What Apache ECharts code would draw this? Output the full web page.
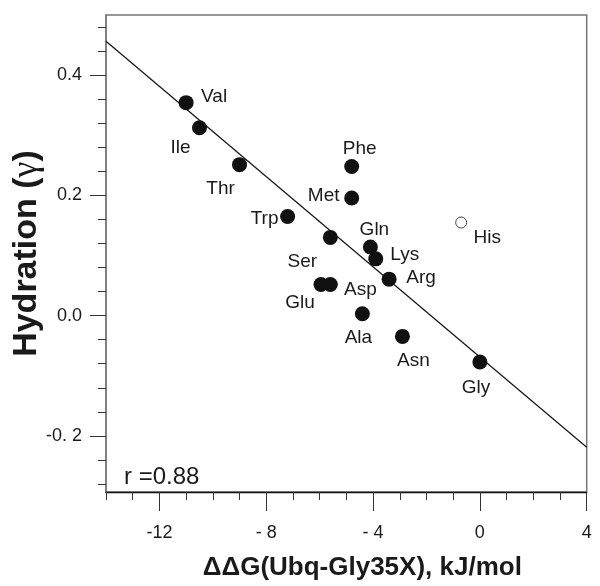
<!DOCTYPE html>
<html>
<head>
<meta charset="utf-8">
<script src="https://cdn.jsdelivr.net/npm/echarts@6/dist/echarts.min.js"></script>
<style>
	html,body{margin:0;padding:0;background:#fff;}
	#container{width:600px;height:586px;}
</style>
</head>
<body>
<div id="container"></div>
<script>
// residues, ddG (kJ/mol) and hydration values
var residues = ['Val','Ile','Thr','Phe','Met','Trp','Ser','Gln','Lys','Arg','Glu','Asp','Ala','Asn','Gly'];
var ddG = [-11.0,-10.5,-9.0,-4.8,-4.8,-7.2,-5.6,-4.1,-3.9,-3.4,-5.95,-5.6,-4.4,-2.9,0.0];
var hydration = [0.353,0.311,0.249,0.246,0.193,0.162,0.127,0.111,0.091,0.057,0.048,0.048,-0.001,-0.039,-0.082];
var openName = ['His'];
var openDdG = [-0.7];
var openHydration = [0.152];
// regression line ends
var fitX = [-14, 4];
var fitY = [0.456, -0.225];
var xTicks = [-12,-8,-4,0,4];
var xTickLabels = ['-12','- 8','- 4','0','4'];
var yTicks = [-0.2,0,0.2,0.4];
var yTickLabels = ['-0. 2','0.0','0.2','0.4'];
var rText = 'r =0.88';

// label offsets (centre of text relative to dot)
var labelOffsets = [[28,-6],[-19,20],[-19,24],[8,-18],[-28,-2],[-23,2],[-28,24],[4,-17],[29,-4],[32,-1],[-21,18],[30,5],[-4,24],[11,24],[-4,26]];
var openOffsets = [[26,15]];

var FONT = 'Liberation Sans, Arial, Helvetica, sans-serif';
var INK = '#1a1a1a';

function pickLabel(v, ticks, labels){
	for(var i=0;i<ticks.length;i++){
		if(Math.abs(v-ticks[i])<1e-6) return labels[i];
	}
	return '';
}

var filled = [];
for(var i=0;i<residues.length;i++){
	filled.push({name:residues[i], value:[ddG[i],hydration[i]], label:{offset:labelOffsets[i]}});
}
var hollow = [];
for(var j=0;j<openName.length;j++){
	hollow.push({name:openName[j], value:[openDdG[j],openHydration[j]], label:{offset:openOffsets[j]}});
}
var fitLine = [];
for(var k=0;k<fitX.length;k++){
	fitLine.push([fitX[k],fitY[k]]);
}

var pointLabel = {
	show:true, position:'inside', formatter:'{b}',
	color:INK, fontSize:19, fontFamily:FONT, align:'center', verticalAlign:'middle'
};

var myChart = echarts.init(document.getElementById('container'));
var option = {
	animation:false,
	title:{
		text:rText, left:124, top:465, padding:0,
		textStyle:{fontSize:24, fontWeight:'normal', color:INK, fontFamily:FONT}
	},
	grid:[
		// main plot frame
		{left:106, top:15, width:480.7, height:481, show:true, borderColor:'#777', borderWidth:1.5, backgroundColor:'transparent'},
		// y minor ticks -0.28..0.48
		{left:106, top:27, width:480.7, height:457},
		// y major ticks -0.2..0.4
		{left:106, top:75.1, width:480.7, height:360.8},
		// x major ticks -12..4
		{left:159.4, top:15, width:427.3, height:481}
	],
	xAxis:[{
		gridIndex:0, type:'value', min:-14, max:4, interval:1,
		axisLine:{show:true, onZero:false, lineStyle:{color:'#111', width:1.3}},
		axisTick:{show:true, length:8, lineStyle:{color:'#333', width:1}},
		axisLabel:{show:false}, splitLine:{show:false},
		name:'ΔΔG(Ubq-Gly35X), kJ/mol', nameLocation:'middle', nameGap:63,
		nameTextStyle:{fontSize:26, fontWeight:'bold', color:INK, fontFamily:FONT, padding:[0,0,0,32]}
	},{
		gridIndex:1, type:'value', min:-14, max:4, show:false
	},{
		gridIndex:2, type:'value', min:-14, max:4, show:false
	},{
		gridIndex:3, type:'value', min:-12, max:4, interval:4,
		axisLine:{show:false, onZero:false},
		axisTick:{show:true, length:15, lineStyle:{color:'#333', width:1}},
		axisLabel:{show:true, margin:28, fontSize:18, color:INK, fontFamily:FONT,
			formatter:function(v){ return pickLabel(v, xTicks, xTickLabels); }},
		splitLine:{show:false}
	}],
	yAxis:[{
		gridIndex:0, type:'value', min:-0.3, max:0.5,
		axisLine:{show:true, onZero:false, lineStyle:{color:'#777', width:1.5}},
		axisTick:{show:false}, axisLabel:{show:false}, splitLine:{show:false},
		name:'Hydration ({g|γ})', nameLocation:'middle', nameGap:61, nameRotate:90,
		nameTextStyle:{fontSize:34, fontWeight:'bold', color:INK, fontFamily:FONT,
			rich:{g:{fontSize:36, fontWeight:'normal', color:INK, fontFamily:'Liberation Serif, DejaVu Serif, serif'}}}
	},{
		gridIndex:1, type:'value', min:-0.28, max:0.48, interval:0.04,
		axisLine:{show:false, onZero:false},
		axisTick:{show:true, length:8, lineStyle:{color:'#333', width:1}},
		axisLabel:{show:false}, splitLine:{show:false}
	},{
		gridIndex:2, type:'value', min:-0.2, max:0.4, interval:0.2,
		axisLine:{show:false, onZero:false},
		axisTick:{show:true, length:16, lineStyle:{color:'#333', width:1}},
		axisLabel:{show:true, margin:24, fontSize:18, color:INK, fontFamily:FONT,
			formatter:function(v){ return pickLabel(v, yTicks, yTickLabels); }},
		splitLine:{show:false}
	},{
		gridIndex:3, type:'value', min:-0.3, max:0.5, show:false
	}],
	series:[{
		name:'fit', type:'line', xAxisIndex:0, yAxisIndex:0,
		data:fitLine, symbol:'none', silent:true,
		lineStyle:{color:'#111', width:1.2}
	},{
		name:'residues', type:'scatter', xAxisIndex:0, yAxisIndex:0,
		data:filled, symbol:'circle', symbolSize:15, silent:true,
		itemStyle:{color:'#111', opacity:1},
		label:pointLabel
	},{
		name:'His', type:'scatter', xAxisIndex:0, yAxisIndex:0,
		data:hollow, symbol:'circle', symbolSize:11, silent:true,
		itemStyle:{color:'#fff', borderColor:'#444', borderWidth:1, opacity:1},
		label:pointLabel
	}]
};
myChart.setOption(option);
</script>
</body>
</html>
